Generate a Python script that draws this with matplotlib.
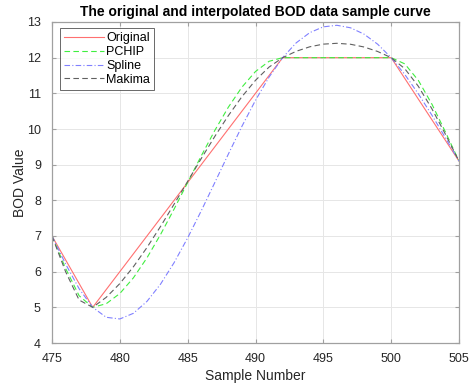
import numpy as np
import matplotlib
matplotlib.use("Agg")
import matplotlib.pyplot as plt

plt.rcParams['font.family'] = ['Liberation Sans', 'DejaVu Sans']

# original BOD samples
sample_x = np.array([475, 478, 492, 500, 505], dtype=float)
bod_y = np.array([7.0, 5.0, 12.0, 12.0, 9.1])

# query grid (integer sample numbers)
xq = np.arange(475, 506, 1.0)


def hermite(x, y, d, xq):
    idx = np.clip(np.searchsorted(x, xq, side='right') - 1, 0, len(x) - 2)
    h = x[idx + 1] - x[idx]
    t = (xq - x[idx]) / h
    h00 = 2*t**3 - 3*t**2 + 1
    h10 = t**3 - 2*t**2 + t
    h01 = -2*t**3 + 3*t**2
    h11 = t**3 - t**2
    return h00*y[idx] + h10*h*d[idx] + h01*y[idx+1] + h11*h*d[idx+1]


def pchip(x, y, xq):
    h = np.diff(x)
    dl = np.diff(y) / h
    n = len(x)
    d = np.zeros(n)
    for k in range(1, n - 1):
        if dl[k-1] * dl[k] > 0:
            w1 = 2*h[k] + h[k-1]
            w2 = h[k] + 2*h[k-1]
            d[k] = (w1 + w2) / (w1/dl[k-1] + w2/dl[k])

    def end(h1, h2, d1, d2):
        s = ((2*h1 + h2)*d1 - h1*d2) / (h1 + h2)
        if np.sign(s) != np.sign(d1):
            s = 0.0
        elif np.sign(d1) != np.sign(d2) and abs(s) > abs(3*d1):
            s = 3*d1
        return s
    d[0] = end(h[0], h[1], dl[0], dl[1])
    d[-1] = end(h[-1], h[-2], dl[-1], dl[-2])
    return hermite(x, y, d, xq)


def makima(x, y, xq):
    dl = np.diff(y) / np.diff(x)
    ext = np.concatenate([[3*dl[0] - 2*dl[1], 2*dl[0] - dl[1]], dl,
                          [2*dl[-1] - dl[-2], 3*dl[-1] - 2*dl[-2]]])
    n = len(x)
    d = np.zeros(n)
    for i in range(n):
        dm2, dm1, d0, dp1 = ext[i], ext[i+1], ext[i+2], ext[i+3]
        w1 = abs(dp1 - d0) + abs(dp1 + d0) / 2
        w2 = abs(dm1 - dm2) + abs(dm1 + dm2) / 2
        d[i] = 0.0 if w1 + w2 == 0 else (w1*dm1 + w2*d0) / (w1 + w2)
    return hermite(x, y, d, xq)


def spline(x, y, xq):
    # natural cubic spline, solved as a small dense system
    m = len(x) - 1
    A = np.zeros((4*m, 4*m))
    b = np.zeros(4*m)
    r = 0
    h = np.diff(x)
    for i in range(m):
        A[r, 4*i] = 1; b[r] = y[i]; r += 1
        A[r, 4*i:4*i+4] = [1, h[i], h[i]**2, h[i]**3]; b[r] = y[i+1]; r += 1
    for i in range(m - 1):
        A[r, 4*i:4*i+4] = [0, 1, 2*h[i], 3*h[i]**2]; A[r, 4*(i+1)+1] = -1; r += 1
        A[r, 4*i:4*i+4] = [0, 0, 2, 6*h[i]]; A[r, 4*(i+1)+2] = -2; r += 1
    A[r, 2] = 2; r += 1
    A[r, 4*(m-1)+2] = 2; A[r, 4*(m-1)+3] = 6*h[-1]
    c = np.linalg.solve(A, b).reshape(m, 4)
    idx = np.clip(np.searchsorted(x, xq, side='right') - 1, 0, m - 1)
    t = xq - x[idx]
    cc = c[idx]
    return cc[:, 0] + cc[:, 1]*t + cc[:, 2]*t**2 + cc[:, 3]*t**3


fig = plt.figure(figsize=(4.7, 3.85), dpi=100)
ax = fig.add_axes([52/470, 42/385, 407/470, 321/385])

ax.plot(sample_x, bod_y, color='#ff7070', lw=0.8, label='Original')
ax.plot(xq, pchip(sample_x, bod_y, xq), color='#40ee40', lw=0.8,
        ls=(0, (5, 3)), label='PCHIP')
ax.plot(xq, spline(sample_x, bod_y, xq), color='#8080ff', lw=0.8,
        ls=(0, (5, 2, 1, 2)), label='Spline')
ax.plot(xq, makima(sample_x, bod_y, xq), color='#606060', lw=0.8,
        ls=(0, (5, 3)), label='Makima')

ax.set_xlim(475, 505)
ax.set_ylim(4, 13)
ax.set_xticks(np.arange(475, 506, 5))
ax.set_yticks(np.arange(4, 14, 1))
ax.grid(True, color='#e6e6e6', lw=0.7)
ax.set_axisbelow(True)
for s in ax.spines.values():
    s.set_color('#a0a0a0')
    s.set_linewidth(0.9)
ax.tick_params(direction='in', length=3, color='#a0a0a0', labelsize=9,
               labelcolor='#262626', top=True, right=True,
               labeltop=False, labelright=False)
ax.tick_params(axis='x', pad=7)
ax.tick_params(axis='y', pad=8)

ax.set_title('The original and interpolated BOD data sample curve',
             fontsize=10, fontweight='bold', pad=4)
ax.set_xlabel('Sample Number', fontsize=10, color='#262626', labelpad=3)
ax.set_ylabel('BOD Value', fontsize=10, color='#262626', labelpad=0)

leg = ax.legend(loc='upper left', bbox_to_anchor=(0.02, 0.98), fontsize=9,
                frameon=True, fancybox=False, handlelength=3.2,
                handletextpad=0.2, borderpad=0.3, labelspacing=0.15,
                borderaxespad=0)
leg.get_frame().set_edgecolor('#262626')
leg.get_frame().set_linewidth(0.6)

fig.savefig('out.png', dpi=100)
